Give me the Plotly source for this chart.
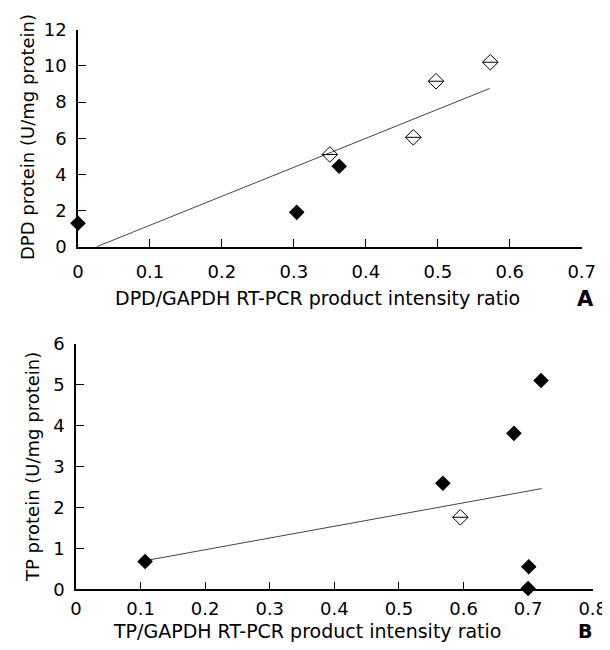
import plotly.graph_objects as go

# Panel A: DPD
dpd_filled_x = [0.0, 0.304, 0.363]
dpd_filled_y = [1.3, 1.9, 4.45]
dpd_open_x = [0.350, 0.466, 0.4975, 0.573]
dpd_open_y = [5.1, 6.05, 9.15, 10.2]
dpd_fit_x = [0.026, 0.572]
dpd_fit_y = [0.0, 8.75]

# Panel B: TP
tp_filled_x = [0.107, 0.568, 0.678, 0.720, 0.701, 0.700]
tp_filled_y = [0.68, 2.59, 3.81, 5.1, 0.55, 0.02]
tp_open_x = [0.595]
tp_open_y = [1.76]
tp_fit_x = [0.107, 0.721]
tp_fit_y = [0.7, 2.46]

xticks_a = [0, 0.1, 0.2, 0.3, 0.4, 0.5, 0.6, 0.7]
xticklabels_a = ["0", "0.1", "0.2", "0.3", "0.4", "0.5", "0.6", "0.7"]
yticks_a = [0, 2, 4, 6, 8, 10, 12]
xticks_b = [0, 0.1, 0.2, 0.3, 0.4, 0.5, 0.6, 0.7, 0.8]
xticklabels_b = ["0", "0.1", "0.2", "0.3", "0.4", "0.5", "0.6", "0.7", "0.8"]
yticks_b = [0, 1, 2, 3, 4, 5, 6]

FONT = "DejaVu Sans"
W, H = 602, 634      # figure size (page has an 8px body margin)
OFF = 8              # page offset of the figure


def px(x):
    return (x - OFF) / W


def py(y):
    return 1 - (y - OFF) / H


fig = go.Figure()


def add_panel(fx, fy, ox, oy, lx, ly, xa, ya):
    fig.add_trace(go.Scatter(x=lx, y=ly, mode="lines", xaxis=xa, yaxis=ya,
                             line=dict(color="#444", width=1), showlegend=False, cliponaxis=False))
    fig.add_trace(go.Scatter(x=fx, y=fy, mode="markers", xaxis=xa, yaxis=ya, cliponaxis=False,
                             marker=dict(symbol="diamond", size=12, color="black",
                                         line=dict(color="black", width=0)), showlegend=False))
    fig.add_trace(go.Scatter(x=ox, y=oy, mode="markers", xaxis=xa, yaxis=ya, cliponaxis=False,
                             marker=dict(symbol="diamond-open", size=12, color="black",
                                         line=dict(color="black", width=1)), showlegend=False))
    fig.add_trace(go.Scatter(x=ox, y=oy, mode="markers", xaxis=xa, yaxis=ya, cliponaxis=False,
                             marker=dict(symbol="line-ew-open", size=11, color="black",
                                         line=dict(color="black", width=1)), showlegend=False))


add_panel(dpd_filled_x, dpd_filled_y, dpd_open_x, dpd_open_y, dpd_fit_x, dpd_fit_y, "x", "y")
add_panel(tp_filled_x, tp_filled_y, tp_open_x, tp_open_y, tp_fit_x, tp_fit_y, "x2", "y2")

axis_common = dict(showgrid=False, zeroline=False, showline=True, linecolor="black", linewidth=1.5,
                   ticks="inside", ticklen=8, tickcolor="black", tickwidth=1.2, automargin=False,
                   ticklabeloverflow="allow",
                   tickfont=dict(family=FONT, size=18, color="black"))

fig.update_layout(
    width=W, height=H, margin=dict(l=0, r=0, t=0, b=0),
    plot_bgcolor="white", paper_bgcolor="white",
    xaxis=dict(domain=[px(78), px(581.7)], range=[0, 0.7], anchor="y",
               tickvals=xticks_a, ticktext=xticklabels_a, ticklabelstandoff=8, **axis_common),
    yaxis=dict(domain=[py(246.7), py(29.7)], range=[0, 12], anchor="x",
               tickvals=yticks_a, ticklabelstandoff=6, **axis_common),
    xaxis2=dict(domain=[px(76), px(592.7)], range=[0, 0.8], anchor="y2",
                tickvals=xticks_b, ticktext=xticklabels_b, ticklabelstandoff=2, **axis_common),
    yaxis2=dict(domain=[py(589.3), py(343.7)], range=[0, 6], anchor="x2",
                tickvals=yticks_b, ticklabelstandoff=6, **axis_common),
)


def ann(text, x, y, size=19, angle=0, bold=False):
    fig.add_annotation(text=("<b>%s</b>" % text) if bold else text, x=px(x), y=py(y),
                       xref="paper", yref="paper", showarrow=False, textangle=angle,
                       xanchor="center", yanchor="middle",
                       font=dict(family=FONT, size=size, color="black"))


ann("DPD/GAPDH RT-PCR product intensity ratio", 317.5, 298)
ann("DPD protein (U/mg protein)", 27, 137, size=18, angle=-90)
ann("A", 585, 299, size=21, bold=True)
ann("TP/GAPDH RT-PCR product intensity ratio", 306.7, 631)
ann("TP protein (U/mg protein)", 32, 467, size=18, angle=-90)
ann("B", 585, 631, size=19, bold=True)

fig.write_html("out.html")
